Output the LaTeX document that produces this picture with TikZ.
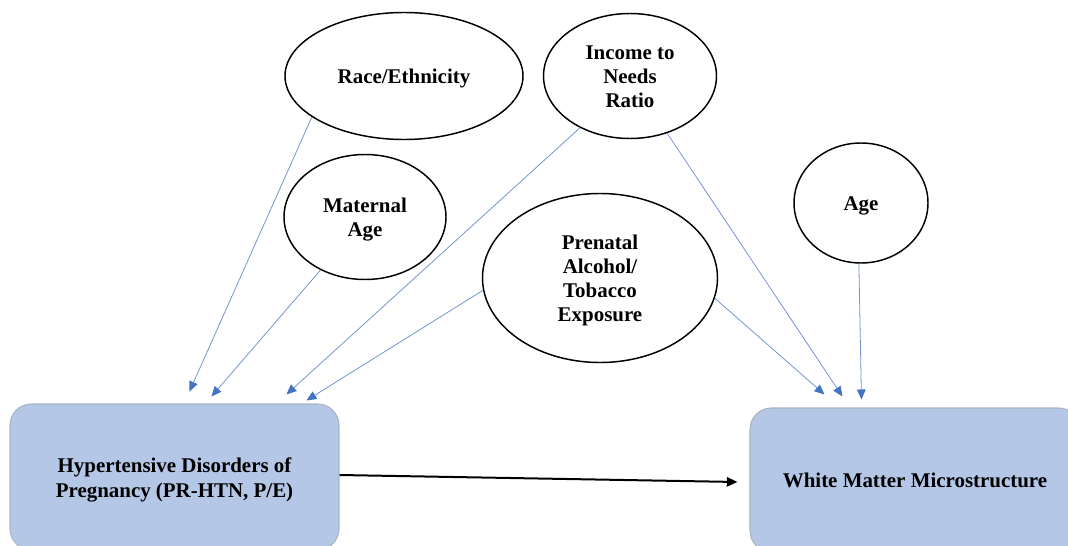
\documentclass[tikz,border=0pt]{standalone}
\usepackage{fontspec}
\setmainfont{Liberation Serif}
\usetikzlibrary{shapes.geometric,arrows.meta,calc}
\definecolor{boxfill}{HTML}{B4C7E7}
\definecolor{boxline}{HTML}{A9B4C4}
\definecolor{linkblue}{HTML}{4472C4}
% fixed top and bottom extents so every label sits at the same optical height
\newcommand\topfix{\rule{0pt}{15.3pt}}
\newcommand\botfix{\rule[-3.5pt]{0pt}{3.5pt}}
\begin{document}
\begin{tikzpicture}[x=0.75pt,y=-0.75pt,
  factor/.style={ellipse,draw=black,line width=1.1pt,inner sep=0pt,align=center,
    font=\fontsize{15.7}{18}\selectfont\bfseries},
  outcome/.style={rectangle,rounded corners=16pt,draw=boxline,line width=0.8pt,fill=boxfill,
    inner sep=0pt,align=center,font=\fontsize{15.7}{18.7}\selectfont\bfseries},
  link/.style={draw=linkblue!75,line width=0.6pt,
    -{Triangle[length=7.5pt,width=6.5pt,color=linkblue,fill=linkblue]}},
  mainlink/.style={draw=black,line width=1.5pt,-{Triangle[length=8pt,width=7pt]}}]
\useasboundingbox (0,0) rectangle (1068,546);
\clip (0,0) rectangle (1068,546);

% confounders
\node[factor,minimum width=178.5pt,minimum height=95.25pt] (race) at (404,76)
  {\topfix Race/Ethnicity\botfix};
\node[factor,minimum width=129.75pt,minimum height=93.75pt] (income) at (630,76)
  {\topfix Income to\\Needs\\Ratio\botfix};
\node[factor,minimum width=121.5pt,minimum height=93.75pt] (matage) at (365,217)
  {\topfix Maternal\\Age\botfix};
\node[factor,minimum width=176.25pt,minimum height=126.75pt] (prenatal) at (600,278)
  {\topfix Prenatal\\Alcohol/\\Tobacco\\Exposure\botfix};
\node[factor,minimum width=100.5pt,minimum height=90pt] (age) at (861,203)
  {\topfix Age\botfix};

% exposure and outcome
\node[outcome,minimum width=246.75pt,minimum height=109.5pt] (htn) at (174.5,477)
  {\topfix Hypertensive Disorders of\\Pregnancy (PR-HTN, P/E)\botfix};
\node[outcome,minimum width=247.5pt,minimum height=108pt] (wmm) at (915,480)
  {\topfix White Matter Microstructure\botfix};

% paths into the exposure
\draw[link] (race.204) -- ($(htn.north west)+(180,-12)$);
\draw[link] (matage.230) -- ($(htn.north west)+(202,-7)$);
\draw[link] (income.226) -- ($(htn.north west)+(277,-9)$);
\draw[link] (prenatal.186) -- ($(htn.north west)+(297,-3)$);

% paths into the outcome
\draw[link] (income.303) -- ($(wmm.north west)+(93,-11)$);
\draw[link] (prenatal.350) -- ($(wmm.north west)+(75,-13)$);
\draw[link] (age.268) -- ($(wmm.north west)+(112,-8)$);

% main effect
\draw[mainlink] ($(htn.east)+(0,-2)$) -- ($(wmm.west)+(-12,2)$);
\end{tikzpicture}
\end{document}
